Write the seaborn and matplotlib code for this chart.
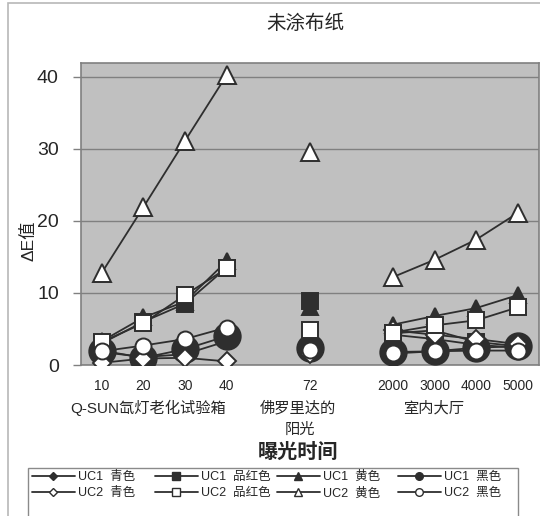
import matplotlib
matplotlib.use("Agg")
import matplotlib.pyplot as plt
from matplotlib.lines import Line2D
from matplotlib.patches import Rectangle
import numpy as np
import pandas as pd
import seaborn as sns

# Exposure categories (blank slots separate the three test conditions)
tick_labels = ["10", "20", "30", "40", "", "72", "", "2000", "3000", "4000", "5000"]
segments = [[0, 1, 2, 3], [5], [7, 8, 9, 10]]
group_labels = ["Q-SUN氙灯老化试验箱", "佛罗里达的\n阳光", "室内大厅"]

# ΔE values per ink / paper coating
uc1_cyan = [1.8, 1.1, 1.5, 3.3, None, 2.0, None, 4.2, 3.6, 2.8, 2.4]
uc1_magenta = [3.0, 6.0, 8.5, 13.5, None, 8.9, None, 4.4, 4.8, 3.2, 2.6]
uc1_yellow = [3.3, 6.6, 8.8, 14.4, None, 8.0, None, 5.6, 6.8, 7.9, 9.7]
uc1_black = [2.0, 1.0, 2.2, 4.0, None, 2.4, None, 1.8, 1.9, 2.4, 2.6]
uc2_cyan = [0.3, 0.9, 1.0, 0.5, None, 1.5, None, 4.8, 4.2, 3.6, 2.9]
uc2_magenta = [3.2, 5.8, 9.7, 13.4, None, 4.8, None, 4.5, 5.5, 6.2, 8.0]
uc2_yellow = [12.8, 21.9, 31.1, 40.2, None, 29.6, None, 12.2, 14.6, 17.4, 21.1]
uc2_black = [1.9, 2.7, 3.6, 5.2, None, 2.1, None, 1.6, 1.9, 2.0, 2.0]

series_names = ["UC1  青色", "UC1  品红色", "UC1  黄色", "UC1  黑色",
                "UC2  青色", "UC2  品红色", "UC2  黄色", "UC2  黑色"]
series_values = [uc1_cyan, uc1_magenta, uc1_yellow, uc1_black,
                 uc2_cyan, uc2_magenta, uc2_yellow, uc2_black]

DARK = "#2e2e2e"
# marker, size, face colour for each series
styles = [
    ("D", 8, DARK),
    ("s", 11, DARK),
    ("^", 12, DARK),
    ("o", 19, DARK),
    ("D", 9, "white"),
    ("s", 11.5, "white"),
    ("^", 13, "white"),
    ("o", 11.5, "white"),
]

rows = []
for name, vals in zip(series_names, series_values):
    for gi, seg in enumerate(segments):
        for p in seg:
            if vals[p] is not None:
                rows.append({"series": name, "group": gi, "pos": p, "value": vals[p]})
df = pd.DataFrame(rows)

sns.set_theme(style="white")
plt.rcParams["font.family"] = ["Liberation Sans", "Noto Sans CJK SC", "DejaVu Sans"]

W, H = 540, 516
fig = plt.figure(figsize=(W / 100, H / 100), dpi=100)
fig.patch.set_facecolor("white")


def fx(px):
    return px / W


def fy(py):
    return 1 - py / H


ax = fig.add_axes([fx(81), fy(365), fx(538.6) - fx(81), fy(63) - fy(365)])
ax.set_facecolor("#c0c0c0")

for name, (mk, ms, face) in zip(series_names, styles):
    sub = df[df["series"] == name]
    for gi in range(len(segments)):
        part = sub[sub["group"] == gi]
        if part.empty:
            continue
        sns.lineplot(data=part, x="pos", y="value", ax=ax, color=DARK,
                     linewidth=1.3, marker=mk, markersize=ms,
                     markerfacecolor=face, markeredgecolor=DARK,
                     markeredgewidth=1.4, legend=False, zorder=3)

ax.set_xlim(-0.5, len(tick_labels) - 0.5)
ax.set_ylim(0, 41.9)
ax.set_yticks([0, 10, 20, 30, 40])
ax.set_yticklabels(["0", "10", "20", "30", "40"], fontsize=14)
ax.set_xticks(np.arange(len(tick_labels)))
ax.set_xticklabels(tick_labels, fontsize=10)
ax.set_xticks(np.arange(len(tick_labels) + 1) - 0.5, minor=True)
ax.tick_params(axis="x", which="major", length=0, pad=10)
ax.tick_params(axis="x", which="minor", length=5, color="#808080", width=1, direction="out")
ax.tick_params(axis="y", which="major", length=6, color="#808080", width=1, direction="out", pad=10, left=True)
ax.grid(axis="y", color="#808080", linewidth=1)
ax.set_axisbelow(True)
ax.set_xlabel("")
ax.set_ylabel("")
for side in ["left", "bottom", "top", "right"]:
    ax.spines[side].set_color("#808080")
    ax.spines[side].set_linewidth(1.2)

# titles and category group labels
fig.text(fx(305), fy(24), "未涂布纸", fontsize=14, ha="center", va="center")
fig.text(fx(28), fy(241), "ΔE值", fontsize=12.5, rotation=90, ha="center", va="center")
fig.text(fx(148), fy(408), group_labels[0], fontsize=11, ha="center", va="center")
fig.text(fx(298), fy(408), group_labels[1].split("\n")[0], fontsize=11, ha="center", va="center")
fig.text(fx(300), fy(430), group_labels[1].split("\n")[1], fontsize=11, ha="center", va="center")
fig.text(fx(434), fy(408), group_labels[2], fontsize=11, ha="center", va="center")
fig.text(fx(298), fy(452), "曝光时间", fontsize=14.5, fontweight="bold", ha="center", va="center")

# legend: four columns of two entries
col_x = [32, 155, 277, 398]
for c in range(4):
    hs = []
    for r in range(2):
        i = r * 4 + c
        mk, ms, face = styles[i]
        hs.append(Line2D([0], [0], color=DARK, linewidth=1.3, marker=mk,
                         markersize=5.5 if mk != "D" else 4.5,
                         markerfacecolor=face, markeredgecolor=DARK,
                         markeredgewidth=1.0, label=series_names[i]))
    fig.legend(handles=hs, loc="upper left", bbox_to_anchor=(fx(col_x[c]), fy(471)),
               frameon=False, fontsize=9, handlelength=3.4, handletextpad=0.3,
               labelspacing=0.35, borderpad=0, borderaxespad=0)

fig.patches.append(Rectangle((fx(28), fy(540)), fx(518) - fx(28), fy(468) - fy(540),
                             transform=fig.transFigure, fill=False,
                             edgecolor="#8a8a8a", linewidth=1))
fig.patches.append(Rectangle((fx(8), fy(540)), fx(560) - fx(8), fy(3) - fy(540),
                             transform=fig.transFigure, fill=False,
                             edgecolor="#b8b8b8", linewidth=1.2))

fig.savefig("out.png", dpi=100)
